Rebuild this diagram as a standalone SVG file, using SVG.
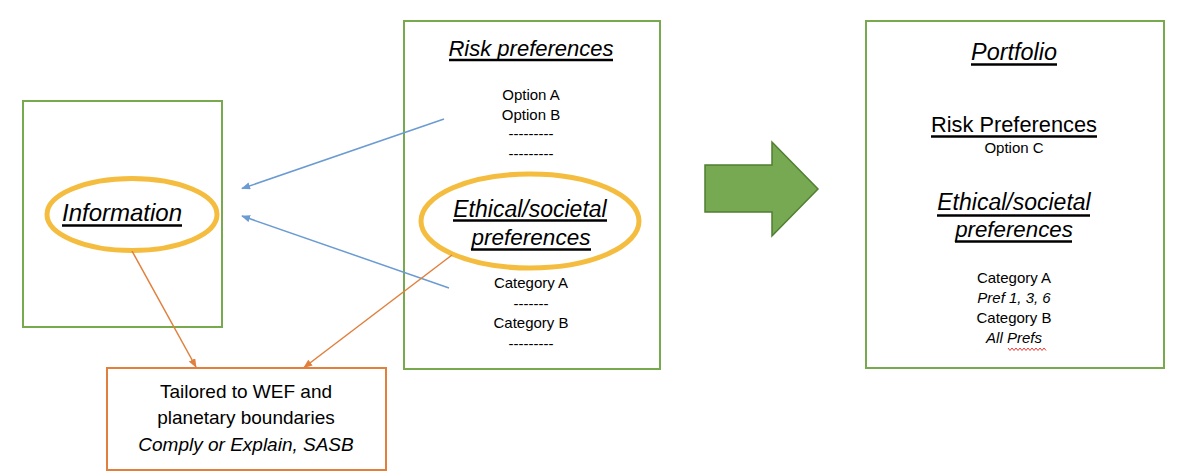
<svg xmlns="http://www.w3.org/2000/svg" width="1184" height="476" viewBox="0 0 1184 476">
  <style>
    .box { fill: #ffffff; stroke: #77A94F; stroke-width: 2; }
    .obox { fill: #ffffff; stroke: #E27F3C; stroke-width: 2; }
    .oval { fill: none; stroke: #F5BD3F; stroke-width: 5; }
    .t { font-family: "Liberation Sans", Arial, sans-serif; fill: #000; text-anchor: middle; }
    .h { font-style: italic; }
    .ul { stroke: #000; stroke-width: 2.6; }
    .blue { fill: none; stroke: #6B9BD2; stroke-width: 1.5; }
    .orange { fill: none; stroke: #E27F3C; stroke-width: 1.5; }
  </style>
  <defs>
    <marker id="ab" viewBox="0 0 10 8" refX="9" refY="4" markerWidth="6" markerHeight="4.8" orient="auto">
      <path d="M0,0 L10,4 L0,8 z" fill="#6B9BD2"/>
    </marker>
    <marker id="ao" viewBox="0 0 10 8" refX="9" refY="4" markerWidth="6" markerHeight="4.8" orient="auto">
      <path d="M0,0 L10,4 L0,8 z" fill="#E27F3C"/>
    </marker>
  </defs>
  <rect width="1184" height="476" fill="#ffffff"/>

  <g id="info">
    <rect class="box" x="23" y="101" width="199" height="226"/>
    <ellipse class="oval" cx="132" cy="214.5" rx="85" ry="36"/>
    <text class="t h" x="122" y="221" font-size="24">Information</text>
    <line class="ul" x1="62" y1="225.5" x2="182" y2="225.5" stroke-width="3"/>
  </g>

  <g id="preferences">
    <rect class="box" x="404" y="21" width="256" height="348"/>
    <text class="t h" x="531" y="56" font-size="22">Risk preferences</text>
    <line class="ul" x1="449" y1="60" x2="613" y2="60"/>
    <text class="t" x="531" y="100" font-size="15">Option A</text>
    <text class="t" x="531" y="119.5" font-size="15">Option B</text>
    <text class="t" x="531" y="139" font-size="15">---------</text>
    <text class="t" x="531" y="158.5" font-size="15">---------</text>
    <ellipse class="oval" cx="530" cy="221" rx="109" ry="47"/>
    <text class="t h" x="530" y="217" font-size="23">Ethical/societal</text>
    <line class="ul" x1="453" y1="220.5" x2="607" y2="220.5"/>
    <text class="t h" x="531" y="245" font-size="22.5">preferences</text>
    <line class="ul" x1="471" y1="249.5" x2="591" y2="249.5"/>
    <text class="t" x="531" y="288" font-size="15">Category A</text>
    <text class="t" x="531" y="308.5" font-size="15">-------</text>
    <text class="t" x="531" y="328" font-size="15">Category B</text>
    <text class="t" x="531" y="348.5" font-size="15">---------</text>
  </g>

  <g id="tailored">
    <rect class="obox" x="107" y="368" width="279" height="102"/>
    <text class="t" x="246" y="397.5" font-size="19">Tailored to WEF and</text>
    <text class="t" x="246" y="424" font-size="19">planetary boundaries</text>
    <text class="t h" x="246" y="450.5" font-size="19">Comply or Explain, SASB</text>
  </g>

  <g id="big-arrow">
    <polygon points="705,165 772,165 772,142 818,189 772,236 772,212 705,212" fill="#76A952" stroke="#507E32" stroke-width="1.5"/>
  </g>

  <g id="portfolio">
    <rect class="box" x="866" y="21" width="298" height="347"/>
    <text class="t h" x="1014" y="60" font-size="23.4">Portfolio</text>
    <line class="ul" x1="971" y1="64.5" x2="1057" y2="64.5"/>
    <text class="t" x="1014" y="131.5" font-size="21.8">Risk Preferences</text>
    <line class="ul" x1="931" y1="136.5" x2="1097" y2="136.5"/>
    <text class="t" x="1014" y="153" font-size="15">Option C</text>
    <text class="t h" x="1014" y="210" font-size="23">Ethical/societal</text>
    <line class="ul" x1="937" y1="215.5" x2="1090" y2="215.5"/>
    <text class="t h" x="1014" y="236.5" font-size="22.3">preferences</text>
    <line class="ul" x1="955" y1="241.5" x2="1072" y2="241.5"/>
    <text class="t" x="1014" y="283" font-size="15">Category A</text>
    <text class="t h" x="1014" y="303" font-size="15">Pref 1, 3, 6</text>
    <text class="t" x="1014" y="323" font-size="15">Category B</text>
    <text class="t h" x="1014" y="343" font-size="15">All Prefs</text>
    <polyline points="1008,348 1010,350.5 1012,348 1014,350.5 1016,348 1018,350.5 1020,348 1022,350.5 1024,348 1026,350.5 1028,348 1030,350.5 1032,348 1034,350.5 1036,348 1038,350.5 1040,348 1042,350.5 1044,348 1046,350.5" fill="none" stroke="#E0403A" stroke-width="1"/>
  </g>

  <g id="connectors">
    <line class="blue" x1="444" y1="119" x2="242" y2="188.5" marker-end="url(#ab)"/>
    <line class="blue" x1="449" y1="288" x2="242" y2="216" marker-end="url(#ab)"/>
    <line class="orange" x1="132" y1="251" x2="196" y2="367" marker-end="url(#ao)"/>
    <line class="orange" x1="452" y1="255" x2="304" y2="367.5" marker-end="url(#ao)"/>
  </g>
</svg>
